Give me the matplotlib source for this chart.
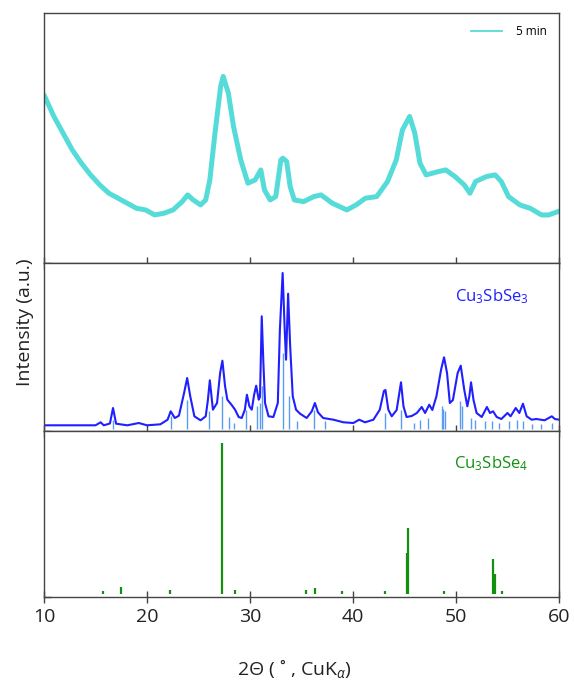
import matplotlib
matplotlib.use("Agg")
import matplotlib.pyplot as plt
from matplotlib.lines import Line2D

plt.rcParams['font.family'] = ['Open Sans', 'DejaVu Sans']
plt.rcParams['mathtext.fontset'] = 'custom'
plt.rcParams['mathtext.rm'] = 'Open Sans'
plt.rcParams['mathtext.it'] = 'Open Sans:italic'

# ---- data: measured pattern (5 min) ----
meas_2theta = [10.07, 10.96, 11.85, 12.74, 13.63, 14.52, 15.41, 16.3, 17.19, 18.08,
               18.97, 19.86, 20.75, 21.64, 22.53, 23.42, 23.95, 24.48, 25.2, 25.7,
               26.1, 26.6, 27.15, 27.4, 27.9, 28.4, 29.1, 29.8, 30.5, 31.05,
               31.4, 31.96, 32.5, 33.0, 33.2, 33.56, 33.9, 34.3, 35.2, 36.2,
               36.9, 38.0, 39.4, 40.3, 41.2, 42.3, 43.35, 44.2, 44.8, 45.5,
               46.0, 46.5, 47.1, 48.3, 49.0, 49.9, 50.8, 51.35, 51.9, 52.95,
               53.8, 54.4, 55.1, 56.2, 57.2, 58.3, 59.0, 59.9]
meas_int = [499, 439, 389, 339, 299, 264, 234, 209, 194, 179,
            164, 159, 144, 149, 159, 184, 204, 189, 174, 189,
            249, 389, 529, 559, 509, 409, 309, 239, 249, 279,
            219, 189, 199, 309, 314, 304, 229, 189, 184, 199,
            204, 179, 159, 174, 194, 199, 244, 309, 399, 439,
            389, 299, 264, 274, 279, 259, 234, 209, 244, 259,
            264, 244, 199, 174, 164, 144, 144, 154]

# ---- data: calculated Cu3SbSe3 pattern ----
calc_2theta = [10.0, 15.0, 15.5, 15.8, 16.4, 16.7, 17.0, 18.1, 19.2, 20.0,
               21.3, 22.0, 22.3, 22.7, 23.1, 23.6, 23.9, 24.2, 24.6, 25.2,
               25.7, 25.9, 26.1, 26.4, 26.8, 27.1, 27.32, 27.58, 27.8, 28.2,
               28.55, 28.9, 29.2, 29.5, 29.7, 29.94, 30.17, 30.4, 30.6, 30.85,
               30.97, 31.14, 31.3, 31.46, 31.8, 32.27, 32.7, 32.9, 33.17, 33.37,
               33.5, 33.7, 33.9, 34.15, 34.47, 34.86, 35.5, 36.0, 36.3, 36.6,
               37.1, 38.1, 39.07, 40.04, 40.6, 41.17, 41.98, 42.6, 43.0, 43.15,
               43.43, 43.76, 44.24, 44.66, 44.9, 45.2, 45.7, 46.2, 46.67, 47.0,
               47.4, 47.7, 48.1, 48.55, 48.84, 49.13, 49.4, 49.7, 50.16, 50.46,
               50.8, 51.1, 51.3, 51.46, 51.7, 52.0, 52.5, 53.0, 53.3, 53.6,
               53.95, 54.4, 55.0, 55.3, 55.8, 56.15, 56.5, 56.86, 57.35, 57.8,
               58.6, 59.3, 59.6, 60.0]
calc_int = [5.7, 5.7, 8.7, 5.7, 7.5, 23, 7.3, 5.7, 8, 5.7,
            6.7, 11.3, 19.7, 13, 15.3, 38, 53, 34.7, 14.7, 10.7,
            14.7, 30, 50.7, 21.3, 28, 58, 70.3, 44.7, 31.3, 26.3,
            21.3, 14, 13, 21.3, 36.3, 24.7, 21.3, 36.3, 45.3, 31.3,
            34, 114.7, 68, 28, 14.7, 14, 28, 101, 158, 101,
            71.3, 137.3, 84.7, 34.7, 21.3, 17.3, 13, 19.7, 28, 18.7,
            13, 11.3, 8.7, 8, 11.3, 8.7, 11.3, 21.3, 40, 41,
            21.3, 14.7, 21, 48.7, 24.7, 14, 15, 18, 24, 18,
            26.3, 21, 34.7, 61.3, 73.7, 58, 28, 31, 58, 65.3,
            41.3, 24.7, 35, 48.7, 31, 18, 14, 24, 18, 19.7,
            14, 12, 18, 14.7, 23, 18, 27.3, 14.7, 11.3, 12,
            10.7, 14.7, 12, 11.3]

# ---- data: Cu3SbSe3 reference sticks ----
se3_pos = [16.7, 22.3, 23.85, 26.05, 27.25, 28.0, 28.4, 29.6, 30.65, 30.97,
           31.14, 33.17, 33.76, 34.6, 36.25, 37.3, 43.1, 44.66, 45.9, 46.5,
           47.3, 48.6, 48.75, 48.9, 50.4, 50.55, 51.46, 51.85, 52.8, 53.5,
           54.2, 55.1, 55.9, 56.5, 57.35, 58.3, 59.3]
se3_h = [11, 14.7, 31, 19.7, 34.7, 14, 8, 21.3, 24.7, 28,
         45, 78, 34.7, 9.7, 21.3, 9.7, 18, 21.3, 8, 11,
         13, 24.7, 22, 20, 29.7, 25, 13, 11, 9.7, 9.7,
         8, 9.7, 11, 9.7, 7, 7, 8]

# ---- data: Cu3SbSe4 reference sticks ----
se4_pos = [15.7, 17.47, 22.2, 27.33, 28.5, 35.4, 36.3, 38.9, 43.06, 45.23,
           45.37, 48.8, 53.6, 53.77, 54.5]
se4_h = [6, 10, 7.5, 154, 7.5, 7, 9, 6, 6.3, 43.7,
         68.7, 6, 38, 23, 6]

xticks = [10, 20, 30, 40, 50, 60]

W, H = 574, 684
fig = plt.figure(figsize=(W / 100, H / 100), dpi=100)

left = 44 / W
width = (559 - 44) / W

def ax_at(ytop, ybot):
    return fig.add_axes([left, 1 - ybot / H, width, (ybot - ytop) / H])

ax1 = ax_at(13, 263)
ax2 = ax_at(263, 431)
ax3 = ax_at(431, 597)

spine_c = '#444444'
for ax in (ax1, ax2, ax3):
    ax.set_xlim(10, 60)
    ax.set_xticks(xticks)
    ax.set_yticks([0])
    ax.set_yticklabels([])
    ax.tick_params(axis='x', direction='inout', length=8, width=1.0,
                   color=spine_c, labelsize=14, pad=4, top=False)
    ax.tick_params(axis='y', direction='in', length=5, width=1.0, color=spine_c)
    for s in ax.spines.values():
        s.set_color(spine_c)
        s.set_linewidth(1.0)

ax1.set_xticklabels([])
ax2.set_xticklabels([])
ax3.tick_params(axis='x', labelcolor='#222222')

# top panel
meas_c = '#56dcd8'
ax1.plot(meas_2theta, meas_int, color=meas_c, lw=3.6, solid_joinstyle='round')
ax1.set_ylim(0, 749)
ax1.legend(handles=[Line2D([], [], color=meas_c, lw=1.3)], labels=['5 min'],
           loc='upper right', frameon=False, fontsize=8.5, handlelength=2.6,
           borderaxespad=0.6, handletextpad=1.2)

# middle panel
ax2.vlines(se3_pos, 2, se3_h, color='#5a9cf0', lw=1.0)
ax2.plot(calc_2theta, calc_int, color='#1f1fff', lw=1.5)
ax2.set_ylim(0, 168)
ax2.text(49.9, 130, 'Cu$_3$SbSe$_3$', color='#1f1fff', fontsize=12)

# bottom panel
ax3.vlines(se4_pos, 3, se4_h, color='#119011', lw=1.6)
ax3.set_ylim(0, 166)
ax3.text(49.8, 129, 'Cu$_3$SbSe$_4$', color='#119011', fontsize=12)

fig.text(25 / W, 1 - 322 / H, 'Intensity (a.u.)', rotation=90, fontsize=14,
         ha='center', va='center', color='#222222')
fig.text(294 / W, 1 - 668 / H, '2Θ ( ˚ , CuK$_{\\alpha}$)', fontsize=14,
         ha='center', va='center', color='#222222')

fig.savefig('out.png', dpi=100)
